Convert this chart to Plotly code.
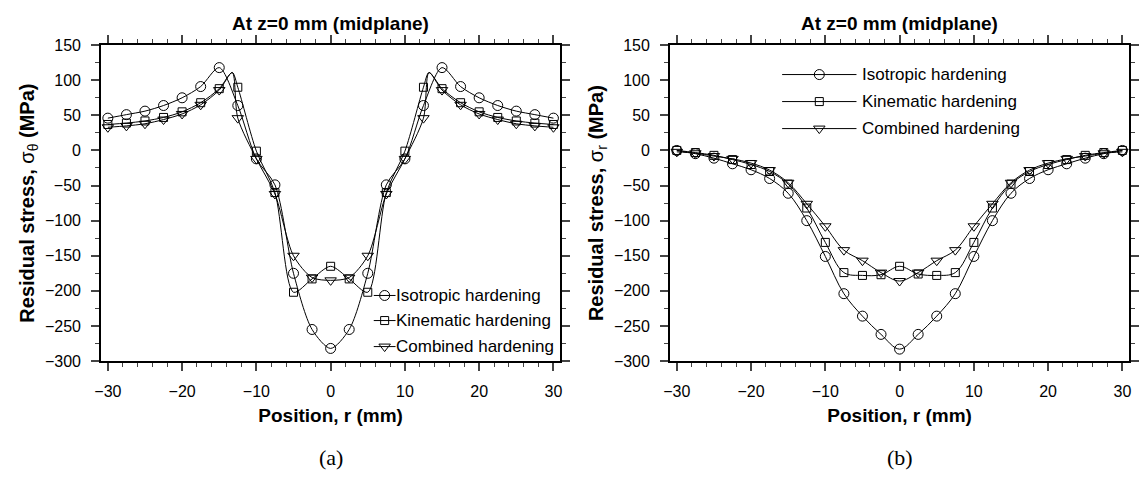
import plotly.graph_objects as go

# Radial positions of the marked nodes (mm)
r = [-30, -27.5, -25, -22.5, -20, -17.5, -15, -12.5, -10, -7.5, -5, -2.5, 0,
     2.5, 5, 7.5, 10, 12.5, 15, 17.5, 20, 22.5, 25, 27.5, 30]

# Hoop residual stress sigma_theta at the midplane, marked nodes (MPa)
hoop_iso = [46, 51, 56, 64, 75, 91, 118, 64, -12, -49, -175, -255, -282,
            -255, -175, -49, -12, 64, 118, 91, 75, 64, 56, 51, 46]
hoop_kin = [37, 39, 42, 47, 55, 68, 88, 90, -1, -60, -202, -183, -165,
            -183, -202, -60, -1, 90, 88, 68, 55, 47, 42, 39, 37]
hoop_comb = [33, 35, 38, 44, 52, 65, 86, 46, -12, -62, -150, -181, -185,
             -181, -150, -62, -12, 46, 86, 65, 52, 44, 38, 35, 33]

# Full hoop curves for kinematic/combined include the unmarked peak node near |r| = 13.25 mm
r_peak = [-30, -27.5, -25, -22.5, -20, -17.5, -15, -13.25, -12.5, -10, -7.5, -5, -2.5, 0,
          2.5, 5, 7.5, 10, 12.5, 13.25, 15, 17.5, 20, 22.5, 25, 27.5, 30]
hoop_kin_curve = [37, 39, 42, 47, 55, 68, 88, 111, 90, -1, -60, -202, -183, -165,
                  -183, -202, -60, -1, 90, 111, 88, 68, 55, 47, 42, 39, 37]
hoop_comb_curve = [33, 35, 38, 44, 52, 65, 86, 111, 46, -12, -62, -150, -181, -185,
                   -181, -150, -62, -12, 46, 111, 86, 65, 52, 44, 38, 35, 33]

# Radial residual stress sigma_r at the midplane (MPa)
rad_iso = [0, -4.6, -11, -19, -27.5, -40, -61, -100, -151, -204, -236, -262, -283,
           -262, -236, -204, -151, -100, -61, -40, -27.5, -19, -11, -4.6, 0]
rad_kin = [0, -3, -7, -13, -20, -30, -48, -82, -131, -174, -178, -177, -165,
           -176, -178, -174, -131, -82, -48, -30, -20, -13, -7, -3, 0]
rad_comb = [-2, -4, -8, -12, -18, -28, -46, -76, -108, -142, -157, -174, -186,
            -174, -157, -142, -108, -76, -46, -28, -18, -12, -8, -4, -2]

series_names = ["Isotropic hardening", "Kinematic hardening", "Combined hardening"]
symbols = ["circle-open", "square-open", "triangle-down-open"]
sizes = [10, 8, 10]

W, H = 1139, 481
FONT = "Liberation Sans, Arial, sans-serif"

fig = go.Figure()

# (axis pair, curve data, marker data, smoothing)
panels = [
    ("x", "y",
     [(r, hoop_iso), (r_peak, hoop_kin_curve), (r_peak, hoop_comb_curve)],
     [hoop_iso, hoop_kin, hoop_comb], 0.8),
    ("x2", "y2",
     [(r, rad_iso), (r, rad_kin), (r, rad_comb)],
     [rad_iso, rad_kin, rad_comb], 1.0),
]
for xa, ya, curves, marks, smooth in panels:
    for name, sym, sz, (cx, cy), my in zip(series_names, symbols, sizes, curves, marks):
        fig.add_trace(go.Scatter(
            x=cx, y=cy, name=name, xaxis=xa, yaxis=ya, mode="lines",
            line=dict(color="black", width=1, shape="spline", smoothing=smooth),
            showlegend=False, hoverinfo="skip"))
        fig.add_trace(go.Scatter(
            x=r, y=my, name=name, xaxis=xa, yaxis=ya, mode="markers",
            marker=dict(symbol=sym, size=sz, color="black", line=dict(width=1, color="black")),
            showlegend=False, hoverinfo="skip"))

# Hand-drawn legends on a pixel-unit overlay covering the whole figure
legend_left = dict(x0=370, x1=392, text_x=390, ys=[298, 324, 351])
legend_right = dict(x0=782, x1=857, text_x=861, ys=[69, 97, 125])
for lg in (legend_left, legend_right):
    xm = (lg["x0"] + lg["x1"]) / 2
    for name, sym, sz, yy in zip(series_names, symbols, sizes, lg["ys"]):
        fig.add_trace(go.Scatter(
            x=[lg["x0"], lg["x1"]], y=[yy, yy], xaxis="x3", yaxis="y3", mode="lines",
            line=dict(color="black", width=1), showlegend=False, hoverinfo="skip"))
        fig.add_trace(go.Scatter(
            x=[xm], y=[yy], xaxis="x3", yaxis="y3", mode="markers",
            marker=dict(symbol=sym, size=sz, color="black", line=dict(width=1, color="black")),
            showlegend=False, hoverinfo="skip"))
        fig.add_annotation(x=lg["text_x"], y=yy, xref="x3", yref="y3", text=name,
                           showarrow=False, xanchor="left", yanchor="middle",
                           font=dict(family=FONT, size=17, color="black"))

x_dom_l = [95 / W, 558 / W]
x_dom_r = [669 / W, 1132 / W]
y_dom = [(H - 366) / H, (H - 38.5) / H]

common_x = dict(range=[-30.9, 30.9], dtick=10, tick0=0, ticks="outside", ticklen=8, tickwidth=1.5,
                showline=True, linewidth=2, linecolor="black", mirror="ticks", showgrid=False,
                zeroline=False, tickfont=dict(family=FONT, size=16, color="black"),
                ticklabelstandoff=7,
                minor=dict(dtick=2, ticks="outside", ticklen=4, tickwidth=1, showgrid=False),
                title=dict(text="<b>Position, r (mm)</b>", font=dict(family=FONT, size=19, color="black"),
                           standoff=9))
common_y = dict(range=[-300, 150], dtick=50, tick0=0, ticks="outside", ticklen=8, tickwidth=1.5,
                showline=True, linewidth=2, linecolor="black", mirror="ticks", showgrid=False,
                zeroline=False, tickfont=dict(family=FONT, size=16, color="black"),
                ticklabelstandoff=7,
                minor=dict(dtick=25, ticks="outside", ticklen=4, tickwidth=1, showgrid=False),
                domain=y_dom)

fig.update_layout(
    width=W, height=H, margin=dict(l=0, r=0, t=0, b=0),
    paper_bgcolor="white", plot_bgcolor="rgba(0,0,0,0)",
    xaxis=dict(common_x, domain=x_dom_l, anchor="y"),
    yaxis=dict(common_y, anchor="x",
               title=dict(text="<b>Residual stress, </b>σ<sub>θ</sub><b> (MPa)</b>",
                          font=dict(family=FONT, size=20, color="black"), standoff=5)),
    xaxis2=dict(common_x, domain=x_dom_r, anchor="y2"),
    yaxis2=dict(common_y, anchor="x2",
                title=dict(text="<b>Residual stress, </b>σ<sub>r</sub><b> (MPa)</b>",
                           font=dict(family=FONT, size=20, color="black"), standoff=5)),
    xaxis3=dict(domain=[0, 1], range=[0, W], visible=False, fixedrange=True, anchor="y3"),
    yaxis3=dict(domain=[0, 1], range=[H, 0], visible=False, fixedrange=True, anchor="x3"),
)

# Panel headings and sub-captions
for dom, cap in ((x_dom_l, "(a)"), (x_dom_r, "(b)")):
    cx = (dom[0] + dom[1]) / 2
    fig.add_annotation(x=cx, y=(H - 16) / H, xref="paper", yref="paper",
                       text="<b>At z=0 mm (midplane)</b>", showarrow=False,
                       xanchor="center", yanchor="middle",
                       font=dict(family=FONT, size=19, color="black"))
    fig.add_annotation(x=cx, y=(H - 466) / H, xref="paper", yref="paper",
                       text=cap, showarrow=False, xanchor="center", yanchor="middle",
                       font=dict(family="Liberation Serif, DejaVu Serif, serif", size=22, color="black"))

fig.write_html("out.html")
